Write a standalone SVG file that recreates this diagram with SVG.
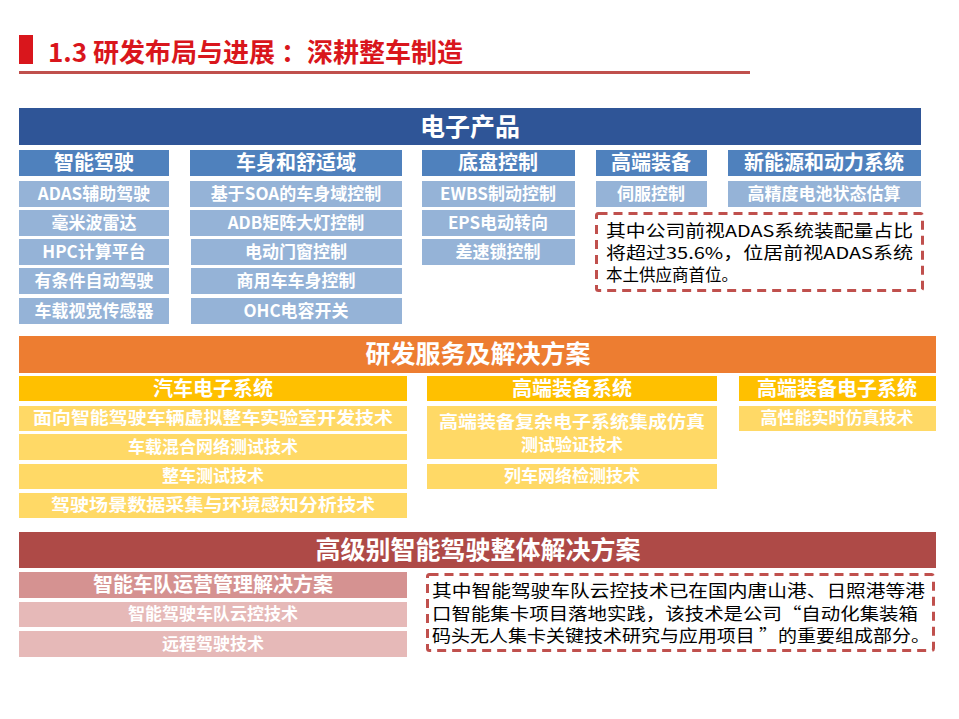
<svg xmlns="http://www.w3.org/2000/svg" width="959" height="719" viewBox="0 0 959 719">
<style>
text{font-family:"Noto Sans CJK SC","Liberation Sans",sans-serif;}
.w{fill:#fff;font-weight:bold;text-anchor:middle;}
.big{font-size:25px;}
.h{font-size:20px;}
.i{font-size:17px;}
.b{fill:#000;font-size:16.5px;}
.bar1{fill:#2f5597}.sub1{fill:#4f81bd}.it1{fill:#95b3d7}
.bar2{fill:#ed7d31}.sub2{fill:#ffc000}.it2{fill:#ffd966}
.bar3{fill:#ae4a47}.sub3{fill:#d59291}.it3{fill:#e6b9b8}
.dash{fill:#fff;stroke:#c0504d;stroke-width:3;stroke-dasharray:9 6}
</style>
<rect width="959" height="719" fill="#fff"/>
<g id="title">
<rect x="19" y="35" width="14" height="29" fill="#d9161c"/>
<text x="48" y="62" font-size="26" font-weight="bold" fill="#d9161c">1.3 研发布局与进展 ：深耕整车制造</text>
<rect x="19" y="71" width="731" height="3" fill="#c0504d"/>
</g>
<g id="electronics">
<rect class="bar1" x="19" y="108" width="902" height="37"/>
<text class="w big" x="470" y="136">电子产品</text>
<rect class="sub1" x="19" y="150" width="150" height="26"/><text class="w h" x="94" y="170">智能驾驶</text>
<rect class="sub1" x="190" y="150" width="212" height="26"/><text class="w h" x="296" y="170">车身和舒适域</text>
<rect class="sub1" x="422" y="150" width="153" height="26"/><text class="w h" x="498" y="170">底盘控制</text>
<rect class="sub1" x="596" y="150" width="111" height="26"/><text class="w h" x="651" y="170">高端装备</text>
<rect class="sub1" x="728" y="150" width="193" height="26"/><text class="w h" x="824" y="170">新能源和动力系统</text>
<g class="it1">
<rect x="19" y="181" width="150" height="26"/><rect x="19" y="210" width="150" height="26"/><rect x="19" y="239" width="150" height="26"/><rect x="19" y="268" width="150" height="26"/><rect x="19" y="298" width="150" height="26"/>
<rect x="190" y="181" width="212" height="26"/><rect x="190" y="210" width="212" height="26"/><rect x="191" y="239" width="211" height="26"/><rect x="191" y="268" width="211" height="26"/><rect x="191" y="298" width="211" height="26"/>
<rect x="422" y="181" width="153" height="26"/><rect x="422" y="210" width="153" height="26"/><rect x="422" y="239" width="153" height="26"/>
<rect x="596" y="181" width="111" height="26"/><rect x="728" y="181" width="193" height="26"/>
</g>
<text class="w i" x="94" y="200">ADAS辅助驾驶</text>
<text class="w i" x="94" y="229">毫米波雷达</text>
<text class="w i" x="94" y="258">HPC计算平台</text>
<text class="w i" x="94" y="287">有条件自动驾驶</text>
<text class="w i" x="94" y="317">车载视觉传感器</text>
<text class="w i" x="296" y="200">基于SOA的车身域控制</text>
<text class="w i" x="296" y="229">ADB矩阵大灯控制</text>
<text class="w i" x="296" y="258">电动门窗控制</text>
<text class="w i" x="296" y="287">商用车车身控制</text>
<text class="w i" x="296" y="317">OHC电容开关</text>
<text class="w i" x="498" y="200">EWBS制动控制</text>
<text class="w i" x="498" y="229">EPS电动转向</text>
<text class="w i" x="498" y="258">差速锁控制</text>
<text class="w i" x="651" y="200">伺服控制</text>
<text class="w i" x="824" y="200">高精度电池状态估算</text>
<rect class="dash" x="596.5" y="213.5" width="326" height="77" rx="2"/>
<text class="b" x="606" y="237" textLength="307" lengthAdjust="spacingAndGlyphs">其中公司前视ADAS系统装配量占比</text>
<text class="b" x="606" y="259" textLength="307" lengthAdjust="spacingAndGlyphs">将超过35.6%，位居前视ADAS系统</text>
<text class="b" x="606" y="281">本土供应商首位。</text>
</g>
<g id="services">
<rect class="bar2" x="19" y="336" width="917" height="37"/>
<text class="w big" x="478" y="363">研发服务及解决方案</text>
<rect class="sub2" x="19" y="376" width="388" height="25"/><text class="w h" x="213" y="396">汽车电子系统</text>
<rect class="sub2" x="427" y="376" width="290" height="25"/><text class="w h" x="572" y="396">高端装备系统</text>
<rect class="sub2" x="739" y="376" width="197" height="25"/><text class="w h" x="837" y="396">高端装备电子系统</text>
<g class="it2">
<rect x="19" y="406" width="388" height="25"/><rect x="19" y="434" width="388" height="26"/><rect x="19" y="464" width="388" height="25"/><rect x="19" y="493" width="388" height="25"/>
<rect x="427" y="406" width="290" height="53"/><rect x="427" y="464" width="290" height="25"/>
<rect x="739" y="406" width="197" height="25"/>
</g>
<text class="w i" x="213" y="424" textLength="360" lengthAdjust="spacingAndGlyphs">面向智能驾驶车辆虚拟整车实验室开发技术</text>
<text class="w i" x="213" y="453">车载混合网络测试技术</text>
<text class="w i" x="213" y="482">整车测试技术</text>
<text class="w i" x="213" y="511" textLength="324" lengthAdjust="spacingAndGlyphs">驾驶场景数据采集与环境感知分析技术</text>
<text class="w i" x="572" y="428" textLength="266" lengthAdjust="spacingAndGlyphs">高端装备复杂电子系统集成仿真</text>
<text class="w i" x="572" y="451">测试验证技术</text>
<text class="w i" x="572" y="482">列车网络检测技术</text>
<text class="w i" x="837" y="424">高性能实时仿真技术</text>
</g>
<g id="solution">
<rect class="bar3" x="19" y="532" width="917" height="36"/>
<text class="w big" x="478" y="559">高级别智能驾驶整体解决方案</text>
<rect class="sub3" x="19" y="572" width="388" height="26"/><text class="w h" x="213" y="592">智能车队运营管理解决方案</text>
<rect class="it3" x="19" y="602" width="388" height="25"/><text class="w i" x="213" y="620">智能驾驶车队云控技术</text>
<rect class="it3" x="19" y="631" width="388" height="26"/><text class="w i" x="213" y="650">远程驾驶技术</text>
<rect class="dash" x="427.5" y="574.5" width="506" height="76" rx="2"/>
<text class="b" x="432" y="597" textLength="493" lengthAdjust="spacingAndGlyphs">其中智能驾驶车队云控技术已在国内唐山港、日照港等港</text>
<text class="b" x="432" y="620" textLength="486" lengthAdjust="spacingAndGlyphs">口智能集卡项目落地实践，该技术是公司“自动化集装箱</text>
<text class="b" x="432" y="642" textLength="498" lengthAdjust="spacingAndGlyphs">码头无人集卡关键技术研究与应用项目 ”的重要组成部分。</text>
</g>
</svg>
